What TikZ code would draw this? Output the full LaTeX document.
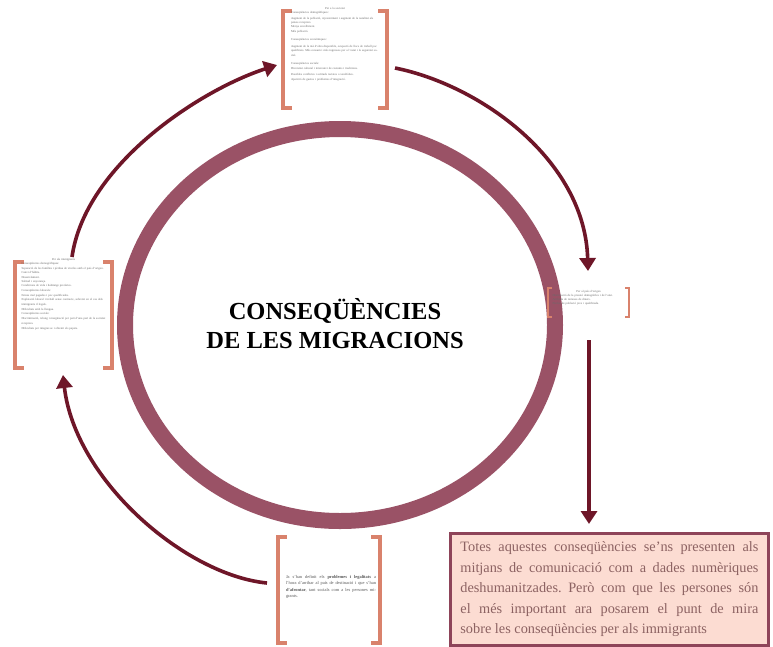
\documentclass[tikz,border=0pt]{standalone}
\usepackage{fontspec}
\setmainfont{Liberation Serif}
\usetikzlibrary{arrows.meta}
\definecolor{ringc}{HTML}{9A5266}
\definecolor{arrc}{HTML}{6E1628}
\definecolor{brkc}{HTML}{D9826C}
\definecolor{notefill}{HTML}{FCDCD2}
\definecolor{notedraw}{HTML}{8E4459}
\definecolor{notetext}{HTML}{8C6262}
\definecolor{tinyc}{HTML}{6A6A6A}
\tikzset{
  flowarrow/.style={draw=arrc, line width=3.6pt, -{Triangle[length=13pt,width=16pt]}},
  bracketbox/.style={inner sep=0pt, draw=none},
  brk/.style={draw=brkc, line width=3.8pt},
  brkthin/.style={draw=brkc, line width=2.2pt},
  tinytext/.style={inner sep=0pt, text=tinyc, font=\fontsize{3}{4.3}\selectfont, align=left},
}
\frenchspacing
\begin{document}
\begin{tikzpicture}[x=1pt,y=-1pt]
\useasboundingbox (0,0) rectangle (773,646);
\fill[white] (0,0) rectangle (773,646);

% central ring
\draw[ringc, line width=16pt] (340,325) ellipse [x radius=215, y radius=196];
\node[font=\bfseries\fontsize{24.5}{29}\selectfont, align=center, inner sep=0pt] (title) at (335,324)
  {CONSEQÜÈNCIES\\DE LES MIGRACIONS};

% box nodes (bracketed areas)
\node[bracketbox, minimum width=104pt, minimum height=96pt] (topbox) at (335,59.5) {};
\node[bracketbox, minimum width=97pt, minimum height=106pt] (leftbox) at (63.5,315) {};
\node[bracketbox, minimum width=81pt, minimum height=29pt] (rightbox) at (588.5,302.5) {};
\node[bracketbox, minimum width=102pt, minimum height=106pt] (botbox) at (329,590) {};

% brackets
\foreach \b/\a in {topbox/9, leftbox/9, botbox/9}{
  \draw[brk] ([xshift=\a pt]\b.north west) -- (\b.north west) -- (\b.south west) -- ([xshift=\a pt]\b.south west);
  \draw[brk] ([xshift=-\a pt]\b.north east) -- (\b.north east) -- (\b.south east) -- ([xshift=-\a pt]\b.south east);
}
\draw[brkthin] ([xshift=4pt]rightbox.north west) -- (rightbox.north west) -- (rightbox.south west) -- ([xshift=4pt]rightbox.south west);
\draw[brkthin] ([xshift=-4pt]rightbox.north east) -- (rightbox.north east) -- (rightbox.south east) -- ([xshift=-4pt]rightbox.south east);

% tiny texts
\node[tinytext, anchor=north, text width=88pt] (toptext) at ([yshift=4pt]topbox.north) {%
\centerline{Per a la societat}
Conseqüències demogràfiques:\\[1pt]
Augment de la població, rejoveniment i augment de la natalitat als països receptors.\\
Menys envelliment.\\
Més població.\\[4pt]
Conseqüències econòmiques:\\[3pt]
Augment de la mà d'obra disponible, ocupació de llocs de treball poc qualificats. Més consum i més ingressos per a l'estat i la seguretat social.\\[4pt]
Conseqüències socials:\\[1pt]
Diversitat cultural i intercanvi de costums i tradicions.\\[1pt]
Possibles conflictes i actituds racistes o xenòfobes.\\[1pt]
Aparició de guetos i problemes d'integració.};

\node[tinytext, anchor=north, text width=84pt] (lefttext) at ([yshift=4pt]leftbox.north) {%
\centerline{Per als immigrants}
Conseqüències demogràfiques:\\[1pt]
Separació de les famílies i pèrdua de vincles amb el país d'origen.\\
Canvi d'hàbits.\\
Desarrelament.\\
Solitud i enyorança.\\
Condicions de vida i habitatge precàries.\\
Conseqüències laborals:\\[1pt]
Feines mal pagades i poc qualificades.\\
Explotació laboral i treball sense contracte, sobretot en el cas dels immigrants il·legals.\\[1pt]
Dificultats amb la llengua.\\
Conseqüències socials:\\[1pt]
Discriminació, rebuig i marginació per part d'una part de la societat receptora.\\[1pt]
Dificultats per integrar-se i obtenir els papers.};

\node[tinytext, anchor=north, text width=72pt] (righttext) at ([yshift=-2pt]rightbox.north) {%
\centerline{Per al país d'origen}
Disminució de la pressió demogràfica i de l'atur.\\
Arribada de remeses de diners.\\
Pèrdua de població jove i qualificada.};

\node[inner sep=0pt, text=tinyc!80!black, font=\fontsize{4.4}{6.4}\selectfont, text width=90pt, align=justify] (bottext) at (331,587) {%
Ja s'han definit els \textbf{problemes i legalitats} a l'hora d'arribar al país de destinació i que s'han \textbf{d'afrontar}, tant socials com a les persones migrants.};

% note box
\node[draw=notedraw, fill=notefill, line width=2.8pt, minimum width=318pt, minimum height=112pt,
      inner xsep=10pt, text width=298pt, align=justify, text=notetext,
      font=\fontsize{14.3}{20.5}\selectfont, anchor=north west] (note) at (449,532) {%
Totes aquestes conseqüències se'ns presenten als\linebreak
mitjans de comunicació com a dades numèriques\linebreak
deshumanitzades. Però com que les persones són\linebreak
el més important ara posarem el punt de mira\linebreak
sobre les conseqüències per als immigrants};

% arrows
\coordinate (a1s) at (72,257);
\coordinate (a1e) at (277,65);
\coordinate (a2s) at (395,68);
\coordinate (a2e) at (588,271);
\coordinate (a3s) at (589,340);
\coordinate (a3e) at (589,524);
\coordinate (a4s) at (267,583);
\coordinate (a4e) at (63,375);
\draw[flowarrow] (a1s) .. controls (85,165) and (200,90) .. (a1e);
\draw[flowarrow] (a2s) .. controls (480,85) and (585,160) .. (a2e);
\draw[flowarrow] (a3s) -- (a3e);
\draw[flowarrow] (a4s) .. controls (185,575) and (75,480) .. (a4e);
\end{tikzpicture}
\end{document}
